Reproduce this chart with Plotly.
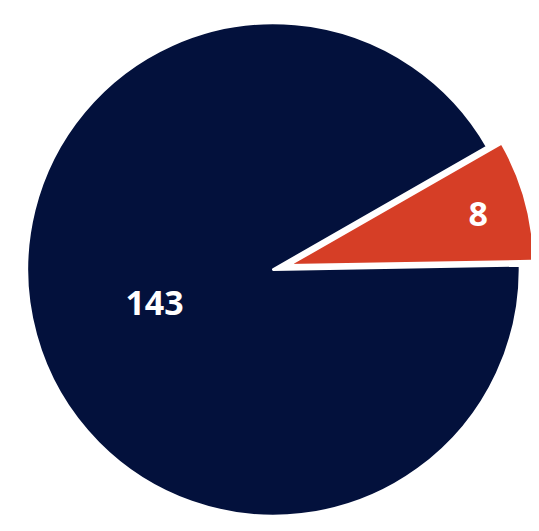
import plotly.graph_objects as go

# Data
categories = ["A", "B"]
slice_shares = [92, 8]          # angular share of each slice as drawn
label_values = ["143", "8"]     # numbers printed on the slices
colors = ["#03113C", "#D63E26"]

fig = go.Figure(
    go.Pie(
        labels=categories,
        values=slice_shares,
        text=label_values,
        textinfo="text",
        textposition="inside",
        insidetextorientation="horizontal",
        textfont=dict(family="Open Sans", size=34, color="white", weight="bold"),
        marker=dict(colors=colors, line=dict(color="white", width=3)),
        pull=[0, 0.06],
        sort=False,
        direction="clockwise",
        rotation=89,
        hoverinfo="none",
    )
)

fig.update_layout(
    width=531,
    height=523,
    margin=dict(l=0, r=0, t=0, b=0),
    showlegend=False,
    paper_bgcolor="white",
    plot_bgcolor="white",
)

fig.write_html("out.html")
